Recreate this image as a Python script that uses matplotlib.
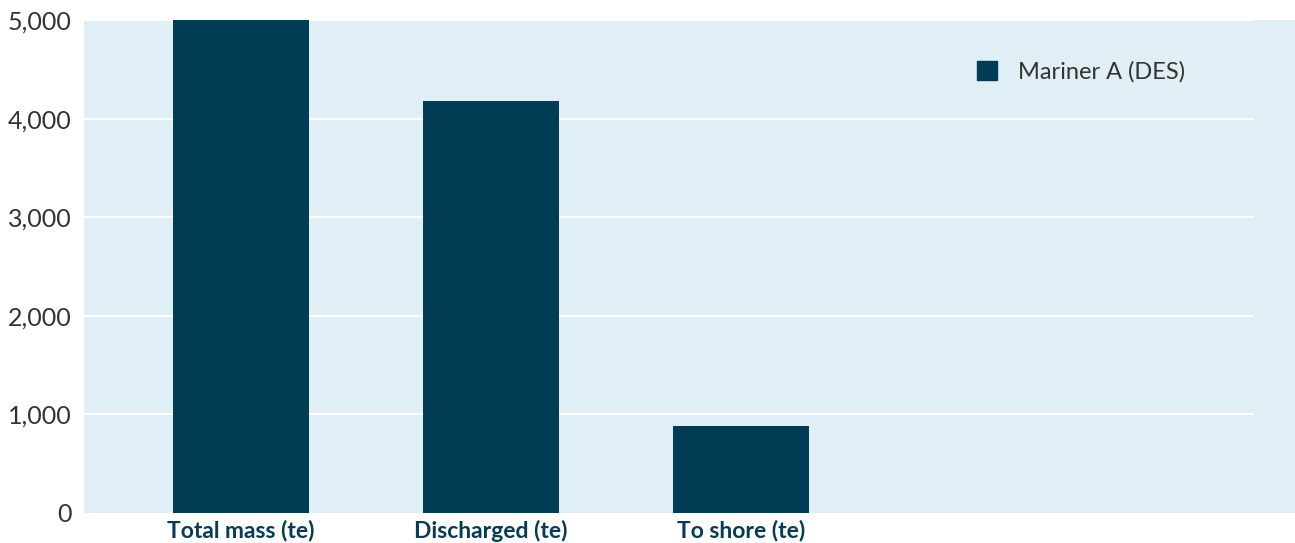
import matplotlib.pyplot as plt
from matplotlib.patches import Patch

categories = ['Total mass (te)', 'Discharged (te)', 'To shore (te)']
values = [5000, 4180, 880]
series_name = 'Mariner A (DES)'
yticks = [0, 1000, 2000, 3000, 4000, 5000]

bg = '#e0eef5'
bar_c = '#003d55'
txt_c = '#333333'

plt.rcParams['font.family'] = ['Lato', 'DejaVu Sans']

fig = plt.figure(figsize=(12.95, 5.43), dpi=100)
ax = fig.add_axes([84/1295, 30/543, 1211/1295, 493/543])
ax.set_facecolor(bg)
for s in ax.spines.values():
    s.set_visible(False)

x = list(range(len(categories)))
ax.bar(x, values, width=0.544, color=bar_c, zorder=3)

# gridlines stop short of the right edge
for t in yticks[1:]:
    ax.axhline(t, xmin=0, xmax=0.965, color='white', lw=1.5, zorder=1)

ax.set_xlim(-0.628, 4.216)
ax.set_ylim(0, 5000)
ax.set_yticks(yticks)
ax.set_yticklabels([f'{t:,}' for t in yticks], fontsize=18, color=txt_c)
ax.set_xticks(x)
ax.set_xticklabels(categories, fontsize=16.5, fontweight='bold', color='#0b3b52')
ax.tick_params(axis='y', length=0, pad=9)
ax.tick_params(axis='x', length=0, pad=5)

leg = ax.legend(handles=[Patch(color=bar_c, label=series_name)],
                loc='upper left', bbox_to_anchor=(0.72, 0.96),
                frameon=False, fontsize=17, handlelength=0.85, handleheight=0.85,
                handletextpad=0.9)
for t in leg.get_texts():
    t.set_color(txt_c)

fig.savefig('out.png', dpi=100)
